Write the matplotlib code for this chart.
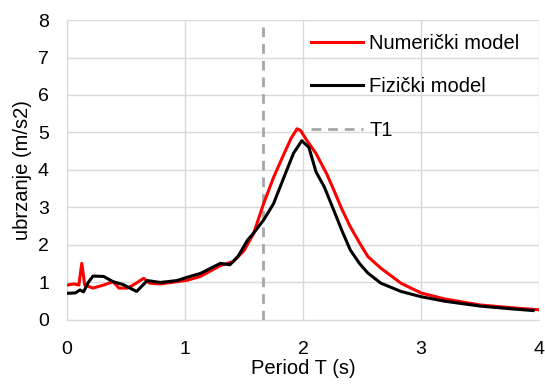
import matplotlib
matplotlib.use("Agg")
import matplotlib.pyplot as plt

plt.rcParams['font.family'] = ['Liberation Sans', 'DejaVu Sans']

# Numericki model (red)
t_num = [0.0, 0.06, 0.1, 0.125, 0.15, 0.22, 0.31, 0.39, 0.44, 0.51, 0.56, 0.65, 0.7, 0.79,
         0.93, 1.02, 1.13, 1.3, 1.41, 1.5, 1.58, 1.667, 1.75, 1.84, 1.9, 1.95, 1.98, 2.03,
         2.11, 2.2, 2.26, 2.33, 2.4, 2.48, 2.55, 2.66, 2.83, 3.0, 3.2, 3.5, 3.75, 4.0]
a_num = [0.93, 0.96, 0.93, 1.51, 0.93, 0.85, 0.93, 1.02, 0.85, 0.85, 0.93, 1.11, 0.98, 0.96,
         1.02, 1.06, 1.16, 1.45, 1.56, 1.85, 2.3, 3.11, 3.8, 4.44, 4.85, 5.1, 5.05, 4.8,
         4.44, 3.9, 3.47, 2.95, 2.49, 2.05, 1.69, 1.38, 0.98, 0.72, 0.56, 0.4, 0.33, 0.27]

# Fizicki model (black)
t_fiz = [0.0, 0.07, 0.11, 0.14, 0.18, 0.22, 0.31, 0.39, 0.47, 0.59, 0.68, 0.79, 0.93, 1.02,
         1.13, 1.3, 1.38, 1.45, 1.53, 1.58, 1.667, 1.75, 1.84, 1.92, 1.99, 2.05, 2.11,
         2.18, 2.26, 2.33, 2.4, 2.48, 2.55, 2.66, 2.83, 3.0, 3.2, 3.5, 3.75, 3.95]
a_fiz = [0.71, 0.72, 0.8, 0.75, 1.0, 1.17, 1.16, 1.02, 0.95, 0.76, 1.05, 1.0, 1.05, 1.14,
         1.24, 1.51, 1.47, 1.7, 2.13, 2.31, 2.67, 3.1, 3.82, 4.45, 4.78, 4.6, 3.95,
         3.55, 2.93, 2.38, 1.87, 1.5, 1.25, 0.98, 0.76, 0.62, 0.5, 0.37, 0.3, 0.25]

T1 = 1.665

fig = plt.figure(figsize=(5.45, 3.85), dpi=100)
ax = fig.add_axes([0.123, 0.169, 0.866, 0.779])

ax.plot(t_num, a_num, color='#FF0000', lw=2.2, label='Numerički model', zorder=3)
ax.plot(t_fiz, a_fiz, color='black', lw=2.2, label='Fizički model', zorder=4)
ax.plot([T1, T1], [0, 8], color='#A6A6A6', lw=2, ls=(0, (3.5, 2.5)), label='T1', zorder=2)

ax.set_xlim(0, 4)
ax.set_ylim(0, 8)
ax.set_xticks([0, 1, 2, 3, 4])
ax.set_yticks(range(0, 9))
ax.grid(True, color='#D9D9D9', lw=1)
ax.set_axisbelow(True)
for s in ['top', 'right']:
    ax.spines[s].set_visible(False)
for s in ['left', 'bottom']:
    ax.spines[s].set_color('#D9D9D9')
ax.tick_params(length=0, labelsize=14)
ax.tick_params(axis='y', pad=13)
ax.tick_params(axis='x', pad=15)
ax.set_xlabel('Period T (s)', fontsize=14.5, labelpad=1)
ax.set_ylabel('ubrzanje (m/s2)', fontsize=14.5, labelpad=4)

fig.legend(loc='upper left', bbox_to_anchor=(311 / 545, 0.912), frameon=False,
           fontsize=14.5, borderpad=0, borderaxespad=0, handlelength=2.6,
           handletextpad=0.3, labelspacing=1.22)

fig.savefig('out.png', dpi=100)
